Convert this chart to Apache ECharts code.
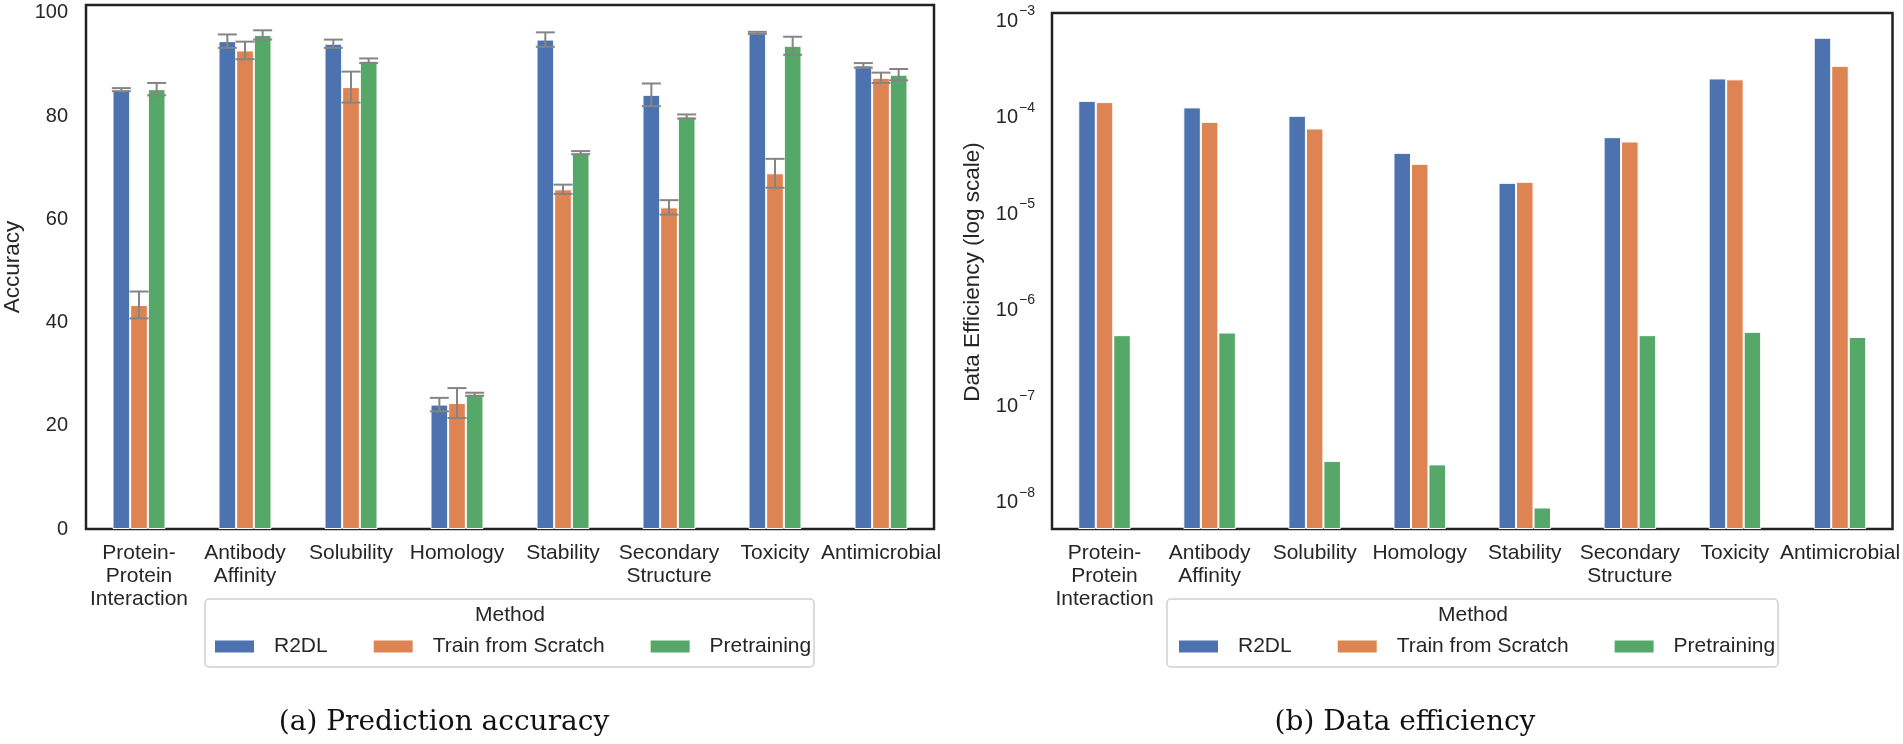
<!DOCTYPE html>
<html><head><meta charset="utf-8">
<script src="https://cdn.jsdelivr.net/npm/echarts@6/dist/echarts.min.js"></script>
<style>html,body{margin:0;padding:0;background:#fff}#c{width:1903px;height:744px}</style>
</head><body><div id="c"></div>
<script>
// ---- data ----
const categories = ['Protein-\nProtein\nInteraction', 'Antibody\nAffinity', 'Solubility', 'Homology', 'Stability', 'Secondary\nStructure', 'Toxicity', 'Antimicrobial'];
const methods = ['R2DL', 'Train from Scratch', 'Pretraining'];

const accR2DL    = [85.1, 94.5, 94.0, 24.1, 94.8, 84.1, 96.1, 89.8];
const accScratch = [43.4, 92.7, 85.6, 24.4, 65.8, 62.3, 68.9, 87.4];
const accPre     = [85.2, 95.7, 90.7, 26.1, 72.9, 79.9, 93.6, 88.0];
const errR2DL    = [0.3, 1.3, 0.8, 1.3, 1.4, 2.2, 0.2, 0.45];
const errScratch = [2.6, 1.7, 3.0, 2.9, 0.9, 1.4, 2.8, 1.0];
const errPre     = [1.2, 0.9, 0.45, 0.3, 0.3, 0.4, 1.75, 1.1];

const effR2DL    = [1.38e-4, 1.18e-4, 9.66e-5, 3.98e-5, 1.94e-5, 5.79e-5, 2.36e-4, 6.25e-4];
const effScratch = [1.34e-4, 8.36e-5, 7.13e-5, 3.06e-5, 1.99e-5, 5.22e-5, 2.31e-4, 3.19e-4];
const effPre     = [5.07e-7, 5.4e-7, 2.5e-8, 2.3e-8, 8.2e-9, 5.07e-7, 5.49e-7, 4.86e-7];

const accTicks = [0, 20, 40, 60, 80, 100];

// ---- style ----
const F = 'Liberation Sans, Arial, sans-serif';
const SERIF = 'DejaVu Serif, serif';
const TXT = '#262626';
const colors = ['#4C72B0', '#DD8452', '#55A868'];
const LOG_MIN = 4.9e-9, LOG_MAX = 1.13e-3;

const accSets = [[accR2DL, errR2DL], [accScratch, errScratch], [accPre, errPre]];
const effSets = [effR2DL, effScratch, effPre];

const errData = [];
accSets.forEach((pair, s) => pair[0].forEach((v, c) => errData.push([c, v - pair[1][c], v + pair[1][c], s])));

const chart = echarts.init(document.getElementById('c'));

const barSeries = [];
accSets.forEach((pair, s) => barSeries.push({
  type: 'bar', name: methods[s], xAxisIndex: 0, yAxisIndex: 0, data: pair[0],
  barGap: '0%', barCategoryGap: '50%',
  itemStyle: { color: colors[s], borderColor: '#fff', borderWidth: 1 }
}));
effSets.forEach((arr, s) => barSeries.push({
  type: 'bar', name: methods[s], xAxisIndex: 1, yAxisIndex: 1, data: arr,
  barGap: '0%', barCategoryGap: '50%',
  itemStyle: { color: colors[s], borderColor: '#fff', borderWidth: 1 }
}));

barSeries.push({
  type: 'custom', name: 'err', xAxisIndex: 0, yAxisIndex: 0, silent: true, z: 5,
  data: errData, encode: { x: 0, y: [1, 2] },
  renderItem: function (params, api) {
    const c = api.value(0), lo = api.value(1), hi = api.value(2), s = api.value(3);
    const bw = api.size([1, 0])[0];
    const x = api.coord([c, 0])[0] + (s - 1) * bw / 6;
    const yl = api.coord([c, lo])[1], yh = api.coord([c, hi])[1];
    const cap = 9.5;
    const st = { stroke: '#858585', lineWidth: 2 };
    return { type: 'group', children: [
      { type: 'line', shape: { x1: x, y1: yl, x2: x, y2: yh }, style: st },
      { type: 'line', shape: { x1: x - cap, y1: yl, x2: x + cap, y2: yl }, style: st },
      { type: 'line', shape: { x1: x - cap, y1: yh, x2: x + cap, y2: yh }, style: st }
    ]};
  }
});

const xAxisCommon = {
  type: 'category', data: categories,
  axisLine: { show: false }, axisTick: { show: false }, splitLine: { show: false },
  axisLabel: { interval: 0, fontSize: 21, lineHeight: 23, color: TXT, fontFamily: F, margin: 13 }
};

const legendCommon = {
  data: methods, orient: 'horizontal', top: 636, itemWidth: 41, itemHeight: 14, itemGap: 44,
  padding: 0, icon: 'rect',
  textStyle: { fontSize: 21, color: TXT, fontFamily: F, padding: [0, 0, 0, 14] }
};

chart.setOption({
  animation: false,
  backgroundColor: '#fff',
  color: colors,
  grid: [
    { left: 86, top: 5, width: 848, height: 524, show: true, borderColor: '#222', borderWidth: 2.5, backgroundColor: 'transparent', containLabel: false },
    { left: 1052, top: 13, width: 842, height: 516, show: true, borderColor: '#222', borderWidth: 2.5, backgroundColor: 'transparent', containLabel: false }
  ],
  xAxis: [
    Object.assign({ gridIndex: 0 }, xAxisCommon),
    Object.assign({ gridIndex: 1 }, xAxisCommon)
  ],
  yAxis: [
    { gridIndex: 0, type: 'value', min: 0, max: 101.5, interval: 20,
      axisLine: { show: false }, axisTick: { show: false }, splitLine: { show: false },
      axisLabel: { fontSize: 20, color: TXT, fontFamily: F, margin: 18,
        formatter: v => accTicks.indexOf(v) >= 0 ? String(v) : '' } },
    { gridIndex: 1, type: 'log', logBase: 10, min: LOG_MIN, max: LOG_MAX, startValue: LOG_MIN,
      axisLine: { show: false }, axisTick: { show: false }, splitLine: { show: false }, minorTick: { show: false },
      axisLabel: { margin: 17, color: TXT,
        formatter: function (v) {
          const e = Math.log10(v); const r = Math.round(e);
          if (Math.abs(e - r) > 1e-6) return '';
          return '{b|10}{s|' + (r < 0 ? '\u2212' + (-r) : r) + '}';
        },
        rich: {
          b: { fontSize: 20, color: TXT, fontFamily: F, verticalAlign: 'bottom' },
          s: { fontSize: 14, color: TXT, fontFamily: F, padding: [0, 0, 13, 1], verticalAlign: 'bottom' }
        } } }
  ],
  legend: [
    Object.assign({ left: 213 }, legendCommon),
    Object.assign({ left: 1177 }, legendCommon)
  ],
  graphic: [
    { type: 'rect', z: 0, shape: { x: 205, y: 599, width: 609, height: 68, r: 4 }, style: { fill: '#fff', stroke: '#d0d0d0', lineWidth: 1.5 } },
    { type: 'rect', z: 0, shape: { x: 1167, y: 599, width: 611, height: 68, r: 4 }, style: { fill: '#fff', stroke: '#d0d0d0', lineWidth: 1.5 } },
    { type: 'text', z: 10, x: 510, y: 615, style: { text: 'Method', fontSize: 21, fill: TXT, fontFamily: F, align: 'center', verticalAlign: 'middle' } },
    { type: 'text', z: 10, x: 1473, y: 615, style: { text: 'Method', fontSize: 21, fill: TXT, fontFamily: F, align: 'center', verticalAlign: 'middle' } },
    { type: 'text', z: 10, x: 13, y: 267, rotation: Math.PI / 2, style: { text: 'Accuracy', fontSize: 22.5, fill: TXT, fontFamily: F, align: 'center', verticalAlign: 'middle' } },
    { type: 'text', z: 10, x: 973, y: 272, rotation: Math.PI / 2, style: { text: 'Data Efficiency (log scale)', fontSize: 22.5, fill: TXT, fontFamily: F, align: 'center', verticalAlign: 'middle' } },
    { type: 'text', z: 10, x: 444, y: 723, style: { text: '(a) Prediction accuracy', fontSize: 28, fill: '#111', fontFamily: SERIF, align: 'center', verticalAlign: 'middle' } },
    { type: 'text', z: 10, x: 1405, y: 723, style: { text: '(b) Data efficiency', fontSize: 28, fill: '#111', fontFamily: SERIF, align: 'center', verticalAlign: 'middle' } }
  ],
  series: barSeries
});
</script></body></html>
